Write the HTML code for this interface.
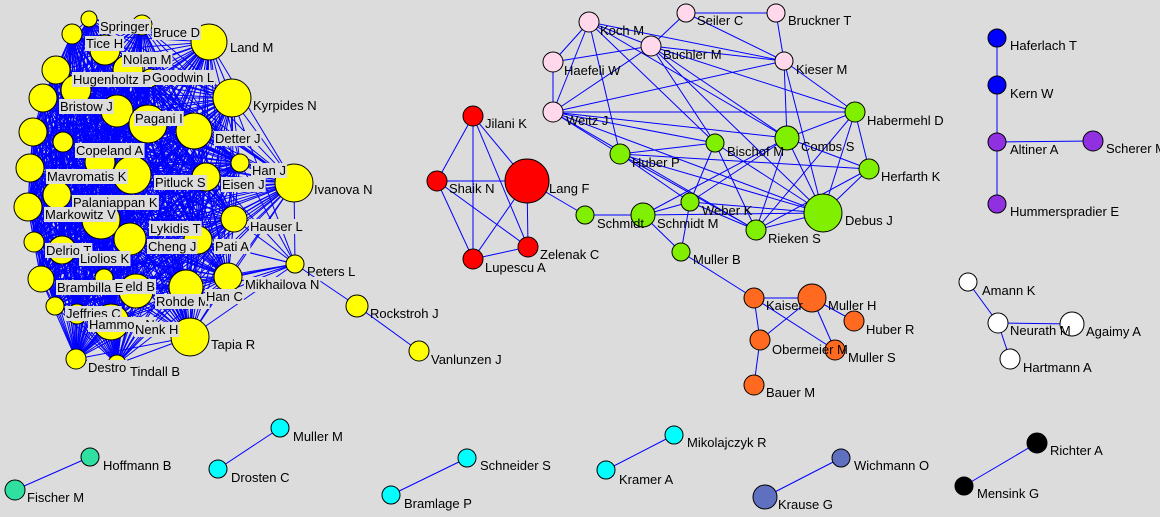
<!DOCTYPE html>
<html><head><meta charset="utf-8"><style>
html,body{margin:0;padding:0;background:#dcdcdc;}
svg{display:block;}
text{font-family:"Liberation Sans",sans-serif;font-size:13px;fill:#000;}
</style></head><body>
<svg id="s" width="1160" height="517" viewBox="0 0 1160 517" xmlns="http://www.w3.org/2000/svg">
<rect width="1160" height="517" fill="#dcdcdc"/>
<g id="E" stroke="#0000ff" stroke-width="1"></g>
<g id="N" stroke="#000" stroke-width="1"></g>
<g id="L"></g>
</svg>
<script>
var NS="http://www.w3.org/2000/svg";
var Y="#ffff00",R="#ff0000",P="#ffd8ec",G="#80f000",O="#ff6a20",W="#ffffff";
var nodes=[
["sp",89,19,8,Y,"Springer",100,31,1],["bd",142,25,10,Y,"Bruce D",153,37,1],["lm",209,42,18,Y,"Land M",230,52,0],
["th",72,34,10,Y,"Tice H",86,48,1],["x1",105,50,15,Y,"",0,0,0],["nm",128,70,15,Y,"Nolan M",123,64,1],
["gl",150,78,9,Y,"Goodwin L",152,82,1],["hp",56,70,14,Y,"Hugenholtz P",73,84,1],["x2",76,90,15,Y,"",0,0,0],
["br",43,98,14,Y,"Bristow J",60,111,1],["x3",117,111,16,Y,"",0,0,0],["pg",148,124,19,Y,"Pagani I",135,123,1],
["ky",232,98,19,Y,"Kyrpides N",253,110,0],["dj",194,131,18,Y,"Detter J",215,143,1],["x4",33,132,14,Y,"",0,0,0],
["ca",63,142,10,Y,"Copeland A",76,155,1],["x5",100,162,15,Y,"",0,0,0],["hj",240,163,9,Y,"Han J",252,175,1],
["iv",294,183,19,Y,"Ivanova N",314,194,0],["mk",30,168,14,Y,"Mavromatis K",47,181,1],["ua",132,175,19,Y,"",0,0,0],
["ps",206,177,14,Y,"Pitluck S",155,187,1],["ej",222,185,1,Y,"Eisen J",222,189,1],["pk",57,195,14,Y,"Palaniappan K",73,207,1],
["mv",28,207,14,Y,"Markowitz V",45,219,1],["x6",101,220,19,Y,"",0,0,0],["hl",234,219,13,Y,"Hauser L",250,231,1],
["kt",130,239,16,Y,"Lykidis T",150,233,1],["cj",198,240,14,Y,"Cheng J",148,251,1],["pa",215,244,1,Y,"Pati A",215,251,1],
["x7",34,242,10,Y,"",0,0,0],["dt",62,250,14,Y,"Delrio T",46,255,1],["lk",80,259,1,Y,"Liolios K",80,263,1],
["x8",41,279,13,Y,"",0,0,0],["hb",104,278,9,Y,"Held B",116,291,1],["x9",136,291,17,Y,"",0,0,0],
["be",56,288,1,Y,"Brambilla E",57,292,1],
["rm",186,287,17,Y,"Rohde M",156,306,1],["mn",228,277,14,Y,"Mikhailova N",245,289,1],["pl",295,264,9,Y,"Peters L",307,276,0],
["hc",206,300,1,Y,"Han C",206,301,1],["jc",55,306,9,Y,"Jeffries C",66,318,1],["xa",77,314,10,Y,"",0,0,0],
["hn",111,322,18,Y,"Hammon N",89,329,1],["nh",135,330,1,Y,"Nenk H",135,334,1],["tr",190,337,19,Y,"Tapia R",211,349,0],
["de",76,359,10,Y,"Destro",88,372,1],["tb",117,364,9,Y,"Tindall B",130,376,0],
["rj",357,306,11,Y,"Rockstroh J",370,318,0],["vj",419,351,10,Y,"Vanlunzen J",431,364,0],
["jk",473,116,10,R,"Jilani K",485,128,0],["sn",437,181,10,R,"Shaik N",449,193,0],["lf",527,181,22,R,"Lang F",549,193,0],
["zc",528,247,10,R,"Zelenak C",540,259,0],["la",473,259,10,R,"Lupescu A",485,272,0],
["ko",589,22,10,P,"Koch M",600,35,0],["se",686,13,9,P,"Seiler C",697,25,0],["bt",776,13,9,P,"Bruckner T",788,25,0],
["bm",651,46,10,P,"Buchler M",663,59,0],["hw",553,62,10,P,"Haefeli W",564,75,0],["km",784,61,9,P,"Kieser M",796,74,0],
["wj",553,112,10,P,"Weitz J",566,125,0],["hd",855,112,10,G,"Habermehl D",867,125,0],["cs",787,138,12,G,"Combs S",801,151,0],
["bi",715,143,9,G,"Bischof M",727,156,0],["hu",620,154,10,G,"Huber P",632,167,0],["hk",869,169,10,G,"Herfarth K",881,181,0],
["sc",585,215,9,G,"Schmidt",597,228,0],["sm",643,215,12,G,"Schmidt M",657,228,0],["wk",690,202,9,G,"Weber K",702,215,0],
["dj2",823,213,19,G,"Debus J",845,225,0],["rs",756,230,10,G,"Rieken S",768,243,0],["mb",681,252,9,G,"Muller B",693,264,0],
["ka",754,298,10,O,"Kaiser",766,310,0],["mh",812,298,14,O,"Muller H",828,310,0],["hr",854,321,10,O,"Huber R",866,334,0],
["ob",760,340,10,O,"Obermeier M",772,354,0],["ms",835,350,10,O,"Muller S",848,362,0],["bu",754,385,10,O,"Bauer M",766,397,0],
["ht",997,38,9,"#0000ff","Haferlach T",1010,50,0],["kw",997,85,9,"#0000ff","Kern W",1010,98,0],
["aa",997,142,9,"#9030e0","Altiner A",1010,154,0],["sh",1093,141,10,"#9030e0","Scherer M",1106,153,0],
["he",997,204,9,"#9030e0","Hummerspradier E",1010,216,0],
["ak",968,282,9,W,"Amann K",982,295,0],["nr",998,323,10,W,"Neurath M",1010,335,0],["ag",1072,324,12,W,"Agaimy A",1086,336,0],
["hm",1010,359,10,W,"Hartmann A",1023,372,0],
["hf",90,457,9,"#30e0a0","Hoffmann B",103,470,0],["fm",15,490,10,"#30e0a0","Fischer M",27,502,0],
["mm",280,428,9,"#00ffff","Muller M",293,441,0],["dc",218,469,9,"#00ffff","Drosten C",231,482,0],
["ss",467,458,9,"#00ffff","Schneider S",480,470,0],["bp",391,495,9,"#00ffff","Bramlage P",404,508,0],
["mr",674,435,9,"#00ffff","Mikolajczyk R",687,447,0],["kr",606,470,9,"#00ffff","Kramer A",619,484,0],
["wo",841,458,9,"#6070c0","Wichmann O",854,470,0],["kg",765,497,12,"#6070c0","Krause G",778,509,0],
["ra",1037,443,10,"#000000","Richter A",1050,455,0],["mg",964,486,9,"#000000","Mensink G",977,498,0]
];
var M={};nodes.forEach(function(n){M[n[0]]=n;});
var edges=[];
var yl=nodes.filter(function(n){return n[4]==Y&&n[0]!="rj"&&n[0]!="vj"&&n[0]!="pl"&&n[3]>2;});
for(var i=0;i<yl.length;i++)for(var j=i+1;j<yl.length;j++)edges.push([yl[i][0],yl[j][0]]);
["iv","hl","mn","tr","rm","hc","hj","ej","pa","ky","x9","hn","cj"].forEach(function(k){edges.push(["pl",k]);});
edges.push(["pl","rj"],["rj","vj"]);
var red=["jk","sn","lf","zc","la"];
for(var i=0;i<5;i++)for(var j=i+1;j<5;j++)edges.push([red[i],red[j]]);
("lf-sc ko-hw ko-wj hw-wj ko-hu ko-bi ko-cs ko-km ko-bm hw-bm se-bt se-bm se-km bt-km bm-km bm-wj bm-bi bm-dj2 bm-hd bm-cs km-wj km-cs km-dj2 km-hd wj-hd wj-hu wj-bi wj-cs wj-dj2 wj-rs hu-bi hu-dj2 hu-hk hu-wk hu-rs bi-wk bi-rs bi-dj2 cs-hd cs-hk cs-dj2 cs-rs cs-wk cs-sm hd-hk hd-dj2 hd-rs hk-dj2 hk-rs wk-dj2 wk-rs wk-sm wk-mb sm-sc sm-mb sm-dj2 dj2-rs mb-ka ka-mh ka-ob mh-ob mh-hr mh-ms ob-bu ka-ms ht-kw kw-aa aa-sh aa-he ak-nr nr-ag nr-hm hf-fm mm-dc ss-bp mr-kr wo-kg ra-mg").split(" ").forEach(function(s){var p=s.split("-");edges.push(p);});
var E=document.getElementById("E"),N=document.getElementById("N"),L=document.getElementById("L");
edges.forEach(function(e){var a=M[e[0]],b=M[e[1]];var l=document.createElementNS(NS,"line");
l.setAttribute("x1",a[1]);l.setAttribute("y1",a[2]);l.setAttribute("x2",b[1]);l.setAttribute("y2",b[2]);E.appendChild(l);});
nodes.forEach(function(n){if(n[3]<=2)return;var c=document.createElementNS(NS,"circle");
c.setAttribute("cx",n[1]);c.setAttribute("cy",n[2]);c.setAttribute("r",n[3]);c.setAttribute("fill",n[4]);N.appendChild(c);});
nodes.forEach(function(n){if(!n[5])return;var t=document.createElementNS(NS,"text");
t.setAttribute("x",n[6]);t.setAttribute("y",n[7]);t.textContent=n[5];
if(n[8]){L.appendChild(t);var b=t.getBBox();var r=document.createElementNS(NS,"rect");
r.setAttribute("x",b.x-1);r.setAttribute("y",b.y);r.setAttribute("width",b.width+2);r.setAttribute("height",b.height);
r.setAttribute("fill","#dcdcdc");L.insertBefore(r,t);}else L.appendChild(t);});
</script>
</body></html>
